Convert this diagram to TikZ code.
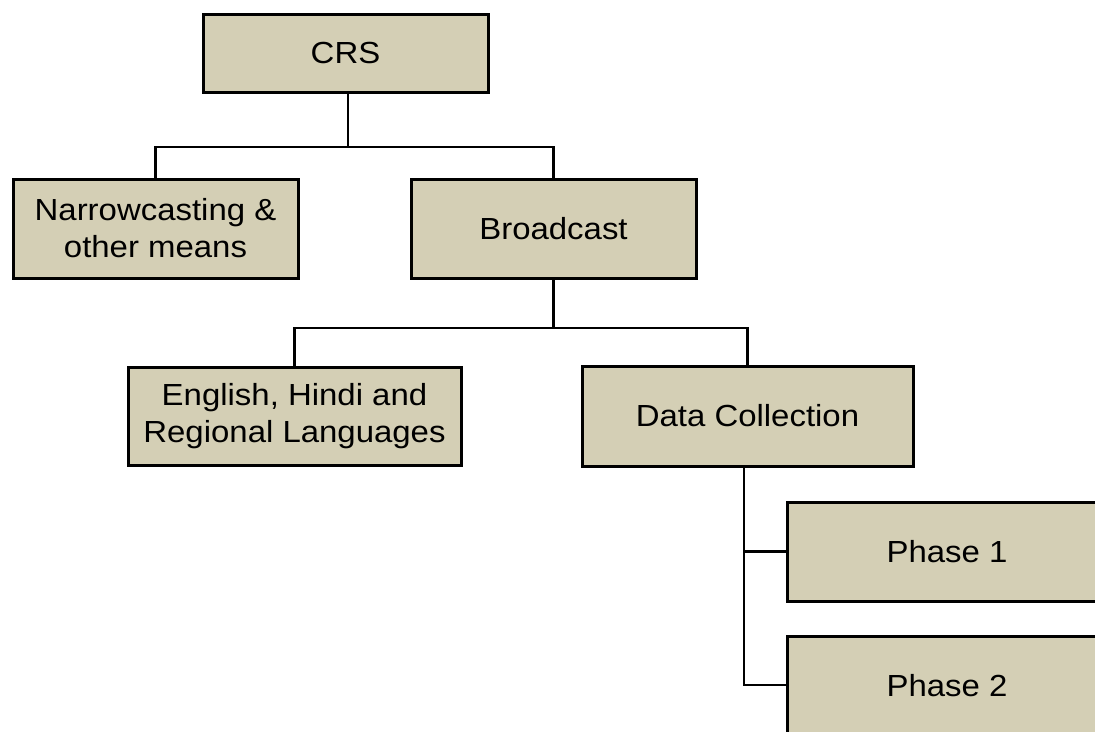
\documentclass[tikz,border=0pt]{standalone}
\usepackage{fontspec}
\setmainfont{Liberation Sans}[FakeStretch=1.08]
\definecolor{boxfill}{RGB}{212,207,181}
\tikzset{
  box/.style={draw=black, line width=3pt, fill=boxfill, inner sep=0pt,
    align=center, font=\fontsize{30.5}{37}\selectfont},
  link/.style={draw=black, line width=2.8pt}
}
\begin{document}
\begin{tikzpicture}[x=1pt,y=-1pt]
\useasboundingbox (0,0) rectangle (1095,731);
\clip (0,0) rectangle (1095,731);
\node[box, minimum width=285pt, minimum height=78pt] (crs) at (345.5,53) {CRS};
\node[box, minimum width=285pt, minimum height=99pt] (narrow) at (155.5,228.5) {Narrowcasting \&\\other means};
\node[box, minimum width=285pt, minimum height=99pt] (broad) at (553.5,228.5) {Broadcast};
\node[box, minimum width=333pt, minimum height=98pt] (eng) at (294.5,416) {English, Hindi and\\Regional Languages};
\node[box, minimum width=331pt, minimum height=100pt] (dc) at (747.5,416) {Data Collection};
\node[box, minimum width=320pt, minimum height=99pt] (p1) at (947,551.5) {Phase 1};
\node[box, minimum width=320pt, minimum height=99pt] (p2) at (947,686) {Phase 2};
\coordinate (j1) at (348,147);
\coordinate (j2) at (553.5,328);
\coordinate (j3) at (744,685);
\draw[link] (crs.south -| j1) -- (j1);
\draw[link] (j1) -| (narrow.north);
\draw[link] (j1) -| (broad.north);
\draw[link] (broad.south) -- (j2);
\draw[link] (j2) -| (eng.north);
\draw[link] (j2) -| (dc.north);
\draw[link] (dc.south -| j3) -- (j3) -- (p2.west |- j3);
\draw[link] (j3 |- p1.west) -- (p1.west);
\end{tikzpicture}
\end{document}
